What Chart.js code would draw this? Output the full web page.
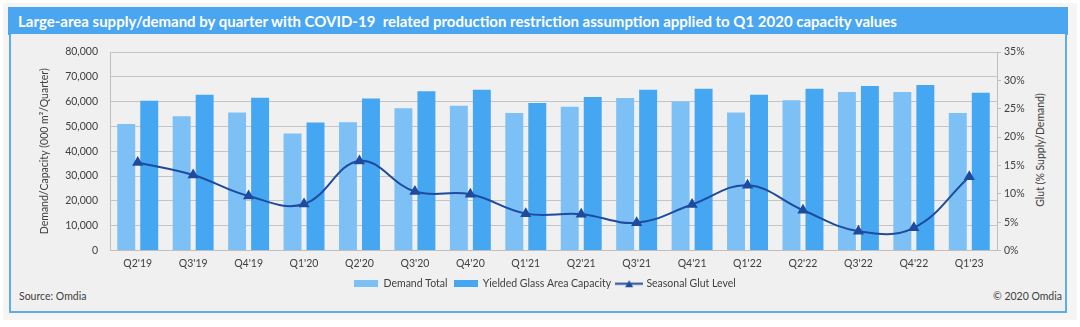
<!DOCTYPE html>
<html>
<head>
<meta charset="utf-8">
<script src="https://cdn.jsdelivr.net/npm/chart.js@4.4.1/dist/chart.umd.min.js"></script>
<style>
  html, body { margin: 0; padding: 0; background: #ffffff; width: 1080px; height: 327px; overflow: hidden; }
  #outer { position: absolute; left: 3px; top: 3px; width: 1074px; height: 317px; background: #f6f5f3; }
  #titlebar { position: absolute; left: 8px; top: 7px; width: 1060px; height: 28px; background: #4aa6f0;
    color: #ffffff; font-family: "Lato", "Open Sans", sans-serif; font-weight: bold; font-size: 15px;
    line-height: 28px; padding-left: 10px; box-sizing: border-box; white-space: nowrap; }
  #panel { position: absolute; left: 9px; top: 34px; width: 1058px; height: 279px; box-sizing: border-box;
    border: 2px solid #5aaef0; border-top: none; background: #f0f0f0; }
  #source { position: absolute; left: 19px; top: 290px; font-family: "Lato", "Open Sans", sans-serif; font-size: 10.5px; color: #404040; }
  #copy { position: absolute; right: 18px; top: 290px; font-family: "Lato", "Open Sans", sans-serif; font-size: 10.5px; color: #404040; }
  #rtitle { position: absolute; left: 1040px; top: 150px; width: 0; height: 0; }
  #rtitle span { position: absolute; left: 0; top: 0; transform: translate(-50%, -50%) rotate(-90deg); white-space: nowrap;
    font-family: "Lato", "Open Sans", sans-serif; font-size: 10.5px; color: #404040; }
  #wrap { position: absolute; left: 0; top: 0; width: 1080px; height: 327px; }
</style>
</head>
<body>
<div id="outer"></div>
<div id="titlebar">Large-area supply/demand by quarter with COVID-19&nbsp; related production restriction assumption applied to Q1 2020 capacity values</div>
<div id="panel"></div>
<div id="source">Source: Omdia</div>
<div id="copy">© 2020 Omdia</div>
<div id="rtitle"><span>Glut (% Supply/Demand)</span></div>
<div id="wrap"><canvas id="c" width="1080" height="327"></canvas></div>
<script>
const categories = ["Q2'19","Q3'19","Q4'19","Q1'20","Q2'20","Q3'20","Q4'20","Q1'21","Q2'21","Q3'21","Q4'21","Q1'22","Q2'22","Q3'22","Q4'22","Q1'23"];
const demandTotal = [51000,54100,55600,47200,51700,57300,58300,55400,57900,61500,60100,55600,60600,63900,63900,55400];
const yieldedCapacity = [60400,62800,61600,51600,61300,64200,64800,59400,61900,64800,65200,62800,65200,66300,66700,63600];
const glutLevel = [0.155,0.133,0.096,0.082,0.158,0.104,0.099,0.065,0.064,0.049,0.081,0.115,0.071,0.034,0.040,0.130];
const leftTicks = [0,10000,20000,30000,40000,50000,60000,70000,80000];
const rightTicks = [0,0.05,0.10,0.15,0.20,0.25,0.30,0.35];

const FONT = '"Lato", "Open Sans", sans-serif';
const FS = 10.5;
const TXT = '#404040';
const LIGHT = '#7cc0f6';
const MID = '#45a6f1';
const NAVY = '#1f4b9e';

function swatchRect(color) {
  const c = document.createElement('canvas'); c.width = 24; c.height = 7;
  const g = c.getContext('2d'); g.fillStyle = color; g.fillRect(0, 0, 24, 7); return c;
}
function swatchLine() {
  const c = document.createElement('canvas'); c.width = 28; c.height = 9;
  const g = c.getContext('2d'); g.strokeStyle = NAVY; g.lineWidth = 2;
  g.beginPath(); g.moveTo(0, 4.5); g.lineTo(28, 4.5); g.stroke();
  g.fillStyle = NAVY; g.beginPath(); g.moveTo(14, 1); g.lineTo(18, 8); g.lineTo(10, 8); g.closePath(); g.fill();
  return c;
}
const swatches = [swatchRect(LIGHT), swatchRect(MID), swatchLine()];

new Chart(document.getElementById('c'), {
  data: {
    labels: categories,
    datasets: [
      { type: 'line', label: 'Seasonal Glut Level', data: glutLevel, yAxisID: 'y1', borderColor: NAVY, backgroundColor: NAVY,
        borderWidth: 2, tension: 0.4, pointStyle: 'triangle', pointRadius: 4.5, pointBackgroundColor: NAVY, pointBorderColor: NAVY, order: 0 },
      { type: 'bar', label: 'Demand Total', data: demandTotal, yAxisID: 'y', backgroundColor: LIGHT,
        barPercentage: 0.78, categoryPercentage: 0.83, order: 1 },
      { type: 'bar', label: 'Yielded Glass Area Capacity', data: yieldedCapacity, yAxisID: 'y', backgroundColor: MID,
        barPercentage: 0.78, categoryPercentage: 0.83, order: 1 }
    ]
  },
  options: {
    responsive: false,
    animation: false,
    devicePixelRatio: 1,
    layout: { padding: { left: 38, right: 28, top: 52, bottom: 28 } },
    plugins: {
      tooltip: { enabled: false },
      legend: {
        position: 'bottom',
        labels: {
          font: { family: FONT, size: FS }, color: TXT, padding: 6, usePointStyle: true, pointStyleWidth: 24, boxHeight: 9,
          generateLabels: (chart) => {
            const order = [1, 2, 0];
            return order.map((i, k) => ({
              text: chart.data.datasets[i].label, datasetIndex: i, pointStyle: swatches[k],
              fillStyle: 'transparent', strokeStyle: 'transparent', lineWidth: 0, fontColor: TXT, hidden: false
            }));
          }
        }
      }
    },
    scales: {
      x: {
        grid: { display: false, drawTicks: false },
        border: { display: true, color: '#bfbfbf', width: 1 },
        ticks: { font: { family: FONT, size: FS }, color: TXT, padding: 7, maxRotation: 0, autoSkip: false },
        afterFit: (s) => { s.height = 22; }
      },
      y: {
        position: 'left', min: 0, max: 80000,
        afterBuildTicks: (s) => { s.ticks = leftTicks.map(v => ({ value: v })); },
        ticks: { font: { family: FONT, size: FS }, color: TXT, padding: 12 },
        grid: { color: '#c4c4c4', drawTicks: false, lineWidth: 1 },
        border: { display: true, color: '#bfbfbf' },
        title: { display: true, text: 'Demand/Capacity (000 m²/Quarter)', font: { family: FONT, size: FS }, color: TXT, padding: 0 },
        afterFit: (s) => { s.width = 72; }
      },
      y1: {
        position: 'right', min: 0, max: 0.35,
        afterBuildTicks: (s) => { s.ticks = rightTicks.map(v => ({ value: v })); },
        ticks: { font: { family: FONT, size: FS }, color: TXT, padding: 3,
          callback: (v) => Math.round(v * 100) + '%' },
        grid: { display: true, drawOnChartArea: false, drawTicks: true, tickLength: 4, color: '#bfbfbf' },
        border: { display: true, color: '#bfbfbf' },
        afterFit: (s) => { s.width = 55; }
      }
    }
  }
});
</script>
</body>
</html>
